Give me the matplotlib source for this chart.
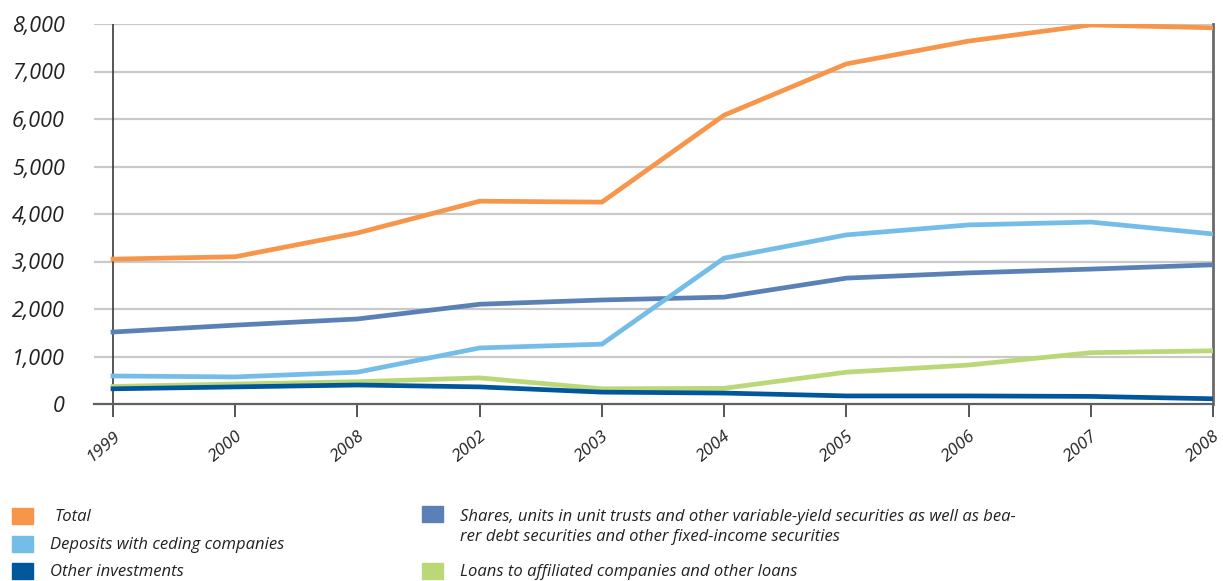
import matplotlib
matplotlib.use("Agg")
import matplotlib.pyplot as plt
from matplotlib.patches import Rectangle

years = ["1999", "2000", "2008", "2002", "2003", "2004", "2005", "2006", "2007", "2008"]

total = [3050, 3100, 3600, 4270, 4250, 6080, 7160, 7640, 7980, 7920]
deposits = [590, 570, 670, 1180, 1260, 3070, 3560, 3770, 3830, 3580]
shares = [1515, 1660, 1790, 2100, 2190, 2250, 2650, 2760, 2840, 2930]
loans = [370, 420, 470, 550, 320, 330, 670, 820, 1080, 1120]
other = [320, 360, 400, 360, 250, 230, 170, 170, 160, 110]

yticks = [0, 1000, 2000, 3000, 4000, 5000, 6000, 7000, 8000]

C_TOTAL = "#F7964A"
C_DEP = "#74BDE8"
C_SHARES = "#5B80B5"
C_LOANS = "#BAD878"
C_OTHER = "#00579B"

FONT = "Open Sans"

W, H = 1223, 581
fig = plt.figure(figsize=(W / 100, H / 100), dpi=100)
ax = fig.add_axes([94 / W, 1 - 404 / H, (1213 - 94) / W, (404 - 24) / H])

x = list(range(len(years)))
ax.set_xlim(-(113 - 94) / 122.2, len(years) - 1)
ax.set_ylim(0, 8000)

# horizontal grid
for v in yticks[1:]:
    ax.axhline(v, color="#C9C9C9", lw=1.6, zorder=1)

lw = 3.4
ax.plot(x, loans, color=C_LOANS, lw=lw, zorder=3, solid_joinstyle="miter")
ax.plot(x, other, color=C_OTHER, lw=lw, zorder=4, solid_joinstyle="miter")
ax.plot(x, shares, color=C_SHARES, lw=lw, zorder=5, solid_joinstyle="miter")
ax.plot(x, deposits, color=C_DEP, lw=lw, zorder=6, solid_joinstyle="miter")
ax.plot(x, total, color=C_TOTAL, lw=lw, zorder=7, solid_joinstyle="miter")

for s in ["top", "left"]:
    ax.spines[s].set_visible(False)
ax.spines["bottom"].set_color("#606060")
ax.spines["bottom"].set_linewidth(1.6)
ax.spines["right"].set_color("#6A6A6A")
ax.spines["right"].set_linewidth(2.0)
ax.spines["bottom"].set_zorder(8)
ax.axvline(0, color="#3A3A3A", lw=1.2, zorder=2)

ax.set_yticks(yticks)
ax.set_yticklabels([f"{v:,}" for v in yticks], fontfamily=FONT, fontstyle="italic",
                   fontsize=15.5, color="#222222")
ax.tick_params(axis="y", length=0, pad=21)

ax.set_xticks(x)
ax.set_xticklabels(years, rotation=40, ha="right", va="top", rotation_mode="anchor",
                   fontfamily=FONT, fontstyle="italic", fontsize=12.5, color="#222222")
ax.tick_params(axis="x", length=9, width=1.4, color="#555555", direction="out", pad=8)

# legend
LEG_FS = 12

def legend_item(px, py, color, text, tx):
    fig.patches.append(Rectangle((px / W, 1 - (py + 16) / H), 21 / W, 16 / H,
                                 transform=fig.transFigure, color=color))
    fig.text(tx / W, 1 - (py + 9) / H, text, fontfamily=FONT, fontstyle="italic",
             fontsize=LEG_FS, color="#222222", va="center", ha="left", linespacing=1.4)

legend_item(12, 508, C_TOTAL, "Total", 55)
legend_item(12, 536, C_DEP, "Deposits with ceding companies", 50)
legend_item(12, 563, C_OTHER, "Other investments", 50)
fig.patches.append(Rectangle((422 / W, 1 - 522 / H), 21 / W, 16 / H,
                             transform=fig.transFigure, color=C_SHARES))
fig.text(460 / W, 1 - 527 / H,
         "Shares, units in unit trusts and other variable-yield securities as well as bea-\n"
         "rer debt securities and other fixed-income securities",
         fontfamily=FONT, fontstyle="italic", fontsize=LEG_FS, color="#222222",
         va="center", ha="left", linespacing=1.4)
legend_item(422, 563, C_LOANS, "Loans to affiliated companies and other loans", 460)

fig.savefig("out.png", dpi=100)
